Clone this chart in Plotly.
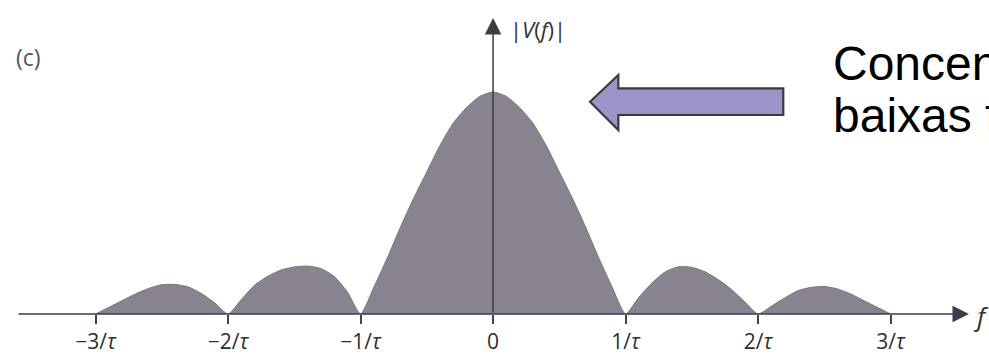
import plotly.graph_objects as go

# Amplitude spectrum |V(f)| of a rectangular pulse, frequency in units of 1/tau
freq = [-3.0, -2.9, -2.8, -2.7, -2.6, -2.5, -2.4, -2.3, -2.2, -2.1,
        -2.0, -1.9, -1.8, -1.7, -1.6, -1.5, -1.4, -1.3, -1.2, -1.1,
        -1.0, -0.9, -0.8, -0.7, -0.6, -0.5, -0.4, -0.3, -0.2, -0.1,
        0.0, 0.1, 0.2, 0.3, 0.4, 0.5, 0.6, 0.7, 0.8, 0.9,
        1.0, 1.1, 1.2, 1.3, 1.4, 1.5, 1.6, 1.7, 1.8, 1.9,
        2.0, 2.1, 2.2, 2.3, 2.4, 2.5, 2.6, 2.7, 2.8, 2.9, 3.0]
magnitude = [0.0, 0.03, 0.06, 0.09, 0.115, 0.132, 0.133, 0.122, 0.092, 0.05,
             0.0, 0.065, 0.13, 0.17, 0.198, 0.212, 0.216, 0.205, 0.17, 0.10,
             0.0, 0.12, 0.25, 0.39, 0.52, 0.64, 0.76, 0.86, 0.93, 0.98,
             1.0, 0.98, 0.93, 0.86, 0.76, 0.64, 0.52, 0.39, 0.25, 0.12,
             0.0, 0.075, 0.14, 0.19, 0.213, 0.21, 0.19, 0.155, 0.11, 0.055,
             0.0, 0.035, 0.072, 0.105, 0.12, 0.124, 0.113, 0.09, 0.06, 0.03, 0.0]

tick_vals = [-3, -2, -1, 0, 1, 2, 3]
tick_text = ["\u22123/<i>\u03c4</i>", "\u22122/<i>\u03c4</i>", "\u22121/<i>\u03c4</i>", "0",
             "1/<i>\u03c4</i>", "2/<i>\u03c4</i>", "3/<i>\u03c4</i>"]

callout_lines = ["Concentrado nas", "baixas frequências"]

W, H = 989, 355
M_BOTTOM = 41
PLOT_H = H - M_BOTTOM
X_RANGE = [-3.721, 3.743]
Y_RANGE = [0, 1.414]


def px_to_paper(px, py):
    """Convert page pixels to paper coordinates of the plotting area."""
    return px / W, (PLOT_H - py) / PLOT_H


fig = go.Figure()
fig.add_trace(go.Scatter(
    x=freq, y=magnitude, mode="lines", fill="tozeroy",
    line=dict(color="#7a7585", width=1, shape="spline", smoothing=0.6),
    fillcolor="#88838f", hoverinfo="skip", showlegend=False,
))

# frequency axis with arrow head
fig.add_annotation(x=3.592, y=0, ax=-3.592, ay=0, xref="x", yref="y",
                   axref="x", ayref="y", text="", showarrow=True,
                   arrowhead=2, arrowsize=2.2, arrowwidth=1.5, arrowcolor="#3d3c4a")
# magnitude axis with arrow head
fig.add_annotation(x=0, y=1.333, ax=0, ay=0, xref="x", yref="y",
                   axref="x", ayref="y", text="", showarrow=True,
                   arrowhead=2, arrowsize=2.2, arrowwidth=1.5, arrowcolor="#3d3c44")

lx, ly = px_to_paper(508, 29)
fig.add_annotation(x=lx, y=ly, xref="paper", yref="paper", xanchor="left",
                   yanchor="middle", text="|<i>V</i>(<i>f</i>)|", showarrow=False,
                   font=dict(family="Open Sans", size=22, color="#333333"))
fx, fy = px_to_paper(981, 316)
fig.add_annotation(x=fx, y=fy, xref="paper", yref="paper", xanchor="center",
                   yanchor="middle", text="<i>f</i>", showarrow=False,
                   font=dict(family="Open Sans", size=26, color="#333333"))
cx, cy = px_to_paper(28, 57)
fig.add_annotation(x=cx, y=cy, xref="paper", yref="paper", xanchor="center",
                   yanchor="middle", text="(c)", showarrow=False,
                   font=dict(family="Open Sans", size=23, color="#555555"))

# callout text, one annotation per line
for line, top_px in zip(callout_lines, [34.5, 87]):
    tx, ty = px_to_paper(831, top_px)
    fig.add_annotation(x=tx, y=ty, xref="paper", yref="paper", xanchor="left",
                       yanchor="top", align="left", text=line, showarrow=False,
                       font=dict(family="Liberation Sans", size=48, color="#000000"))

# block arrow pointing at the main lobe
pts = [(590, 101.7), (618.3, 75), (618.3, 88.3), (783.3, 88.3),
       (783.3, 115), (618.3, 115), (618.3, 130)]
path = "M " + " L ".join("{:.4f},{:.4f}".format(*px_to_paper(x, y)) for x, y in pts) + " Z"
fig.add_shape(type="path", path=path, xref="paper", yref="paper",
              fillcolor="#9b94c8", line=dict(color="#3b3b3f", width=2.2))

fig.update_layout(
    width=W, height=H, margin=dict(l=0, r=0, t=0, b=M_BOTTOM, autoexpand=False),
    paper_bgcolor="white", plot_bgcolor="white",
    xaxis=dict(range=X_RANGE, showgrid=False, zeroline=False, showline=False,
               automargin=False,
               tickmode="array", tickvals=tick_vals, ticktext=tick_text,
               ticks="outside", ticklen=9, tickwidth=1.5, tickcolor="#444444",
               tickfont=dict(family="Open Sans", size=21, color="#2e2e2e")),
    yaxis=dict(range=Y_RANGE, showgrid=False, zeroline=False, showline=False,
               automargin=False, showticklabels=False, ticks=""),
)

fig.write_html("out.html")
